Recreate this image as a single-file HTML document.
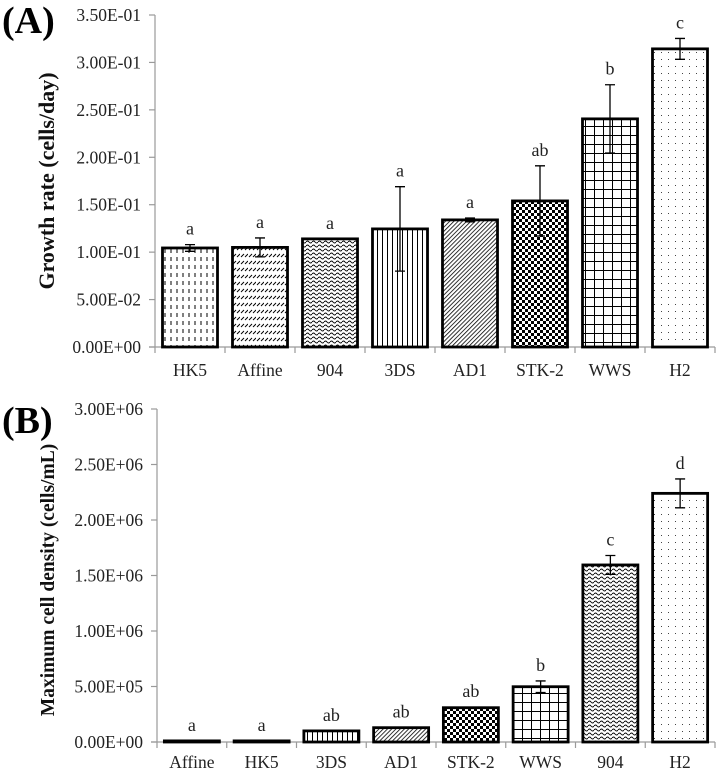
<!DOCTYPE html>
<html><head><meta charset="utf-8"><style>
html,body{margin:0;padding:0;background:#fff;}
svg{display:block;}
svg text{font-family:"Liberation Serif","Times New Roman",Times,serif;}
</style></head><body>
<svg id="chart" width="720" height="772" viewBox="0 0 720 772">
<defs>
<pattern id="p-HK5" width="6" height="8" patternUnits="userSpaceOnUse"><rect width="6" height="8" fill="#fff"/><line x1="3" y1="1" x2="3" y2="5" stroke="#000" stroke-width="1"/></pattern>
<pattern id="p-Affine" width="8" height="7" patternUnits="userSpaceOnUse"><rect width="8" height="7" fill="#fff"/><line x1="1" y1="5" x2="4" y2="2" stroke="#000" stroke-width="1"/><line x1="5" y1="5" x2="8" y2="2" stroke="#000" stroke-width="1"/></pattern>
<pattern id="p-904" width="6" height="4" patternUnits="userSpaceOnUse"><rect width="6" height="4" fill="#fff"/><path d="M0 2 Q1.5 0 3 2 T6 2" fill="none" stroke="#000" stroke-width="0.9"/></pattern>
<pattern id="p-3DS" width="5" height="5" patternUnits="userSpaceOnUse"><rect width="5" height="5" fill="#fff"/><line x1="2.5" y1="0" x2="2.5" y2="5" stroke="#000" stroke-width="1"/></pattern>
<pattern id="p-AD1" width="3" height="3" patternUnits="userSpaceOnUse" patternTransform="rotate(45)"><rect width="3" height="3" fill="#fff"/><line x1="0" y1="0" x2="0" y2="3" stroke="#000" stroke-width="1.6"/></pattern>
<pattern id="p-STK-2" width="6" height="6" patternUnits="userSpaceOnUse"><rect width="6" height="6" fill="#fff"/><rect width="3" height="3" fill="#000"/><rect x="3" y="3" width="3" height="3" fill="#000"/></pattern>
<pattern id="p-WWS" width="9" height="9" patternUnits="userSpaceOnUse"><rect width="9" height="9" fill="#fff"/><path d="M0 0.5H9M0.5 0V9" stroke="#000" stroke-width="1"/></pattern>
<pattern id="p-H2" width="7" height="7" patternUnits="userSpaceOnUse"><rect width="7" height="7" fill="#fff"/><rect x="3" y="3" width="1" height="1" fill="#444"/></pattern>
</defs>
<text x="2" y="33" font-size="38" font-weight="bold">(A)</text>
<text x="2" y="433" font-size="38" font-weight="bold">(B)</text>
<g id="panelA"></g>
<g id="panelB"></g>
</svg>
<script>
const aCategories = ["HK5","Affine","904","3DS","AD1","STK-2","WWS","H2"];
const aValues = [0.1044,0.105,0.114,0.1245,0.134,0.154,0.2405,0.3143];
const aErrors = [0.0035,0.010,0,0.0445,0.002,0.037,0.036,0.011];
const aLetters = ["a","a","a","a","a","ab","b","c"];
const aTicks = ["0.00E+00","5.00E-02","1.00E-01","1.50E-01","2.00E-01","2.50E-01","3.00E-01","3.50E-01"];
const aTickValues = [0,0.05,0.1,0.15,0.2,0.25,0.3,0.35];

const bCategories = ["Affine","HK5","3DS","AD1","STK-2","WWS","904","H2"];
const bValues = [10000,10000,100000,129000,309000,498000,1595000,2240000];
const bErrors = [0,0,0,0,5000,52000,85000,130000];
const bLetters = ["a","a","ab","ab","ab","b","c","d"];
const bTicks = ["0.00E+00","5.00E+05","1.00E+06","1.50E+06","2.00E+06","2.50E+06","3.00E+06"];
const bTickValues = [0,500000,1000000,1500000,2000000,2500000,3000000];

const NS="http://www.w3.org/2000/svg";
function mk(parent,tag,attrs,text){const e=document.createElementNS(NS,tag);for(const k in attrs)e.setAttribute(k,attrs[k]);if(text!==undefined)e.textContent=text;parent.appendChild(e);return e;}

function drawPanel(g,cfg){
  const {x0,x1,yTop,yZero,max,cats,vals,errs,letters,ticks,tickVals,title,titleX,titleY,titleSize,prefix,labelY}=cfg;
  const yS=v=>yZero-(v/max)*(yZero-yTop);
  const bw=(x1-x0)/cats.length;
  const xC=i=>x0+bw*(i+0.5);
  const ax=mk(g,'line',{x1:x0,y1:yTop,x2:x0,y2:yZero,stroke:'#9a9a9a','stroke-width':1.2});
  
  
  const xa=mk(g,'line',{x1:x0-6,y1:yZero,x2:x1,y2:yZero,stroke:'#9a9a9a','stroke-width':1.2});
  
  
  ticks.forEach((t,i)=>{
    const y=yS(tickVals[i]);
    mk(g,'line',{x1:x0-6,y1:y,x2:x0,y2:y,stroke:'#9a9a9a','stroke-width':1.2});
    const tx=mk(g,'text',{x:x0-14,y:y+6,'font-size':17.5,'text-anchor':'end',fill:'#222'},t);
    
    
  });
  for(let i=0;i<=cats.length;i++){
    mk(g,'line',{x1:x0+bw*i,y1:yZero,x2:x0+bw*i,y2:yZero+6,stroke:'#9a9a9a','stroke-width':1.2});
  }
  cats.forEach((c,i)=>{
    const w=55, yt=yS(vals[i]);
    const r=mk(g,'rect',{x:xC(i)-w/2,y:yt,width:w,height:yZero-yt,fill:'url(#p-'+c+')',stroke:'#000','stroke-width':2.8});
    
    
    let top=yt;
    if(errs[i]>0){
      const ye1=yS(vals[i]+errs[i]), ye2=yS(Math.max(0,vals[i]-errs[i]));
      const eb=mk(g,'path',{d:`M${xC(i)} ${ye1}V${ye2}M${xC(i)-5} ${ye1}H${xC(i)+5}M${xC(i)-5} ${ye2}H${xC(i)+5}`,stroke:'#000','stroke-width':1.3,fill:'none'});
      
      
      top=ye1;
    }
    const lt=mk(g,'text',{x:xC(i),y:top-10,'font-size':18,'text-anchor':'middle',fill:'#222'},letters[i]);
    
    
    const xl=mk(g,'text',{x:xC(i),y:labelY,'font-size':17.5,'text-anchor':'middle',fill:'#222'},c);
    
    
  });
  const tt=mk(g,'text',{x:titleX,y:titleY,'font-size':titleSize,'font-weight':'bold','text-anchor':'middle',transform:`rotate(-90 ${titleX} ${titleY})`,fill:'#111'},title);
  
  
}
drawPanel(document.getElementById('panelA'),{x0:155,x1:715,yTop:15,yZero:347,max:0.35,cats:aCategories,vals:aValues,errs:aErrors,letters:aLetters,ticks:aTicks,tickVals:aTickValues,title:'Growth rate (cells/day)',titleX:54,titleY:181,titleSize:22,prefix:'panel-a',labelY:376});
drawPanel(document.getElementById('panelB'),{x0:157,x1:715,yTop:409,yZero:742,max:3000000,cats:bCategories,vals:bValues,errs:bErrors,letters:bLetters,ticks:bTicks,tickVals:bTickValues,title:'Maximum cell density (cells/mL)',titleX:54,titleY:580,titleSize:19.5,prefix:'panel-b',labelY:768});
</script>
</body></html>
